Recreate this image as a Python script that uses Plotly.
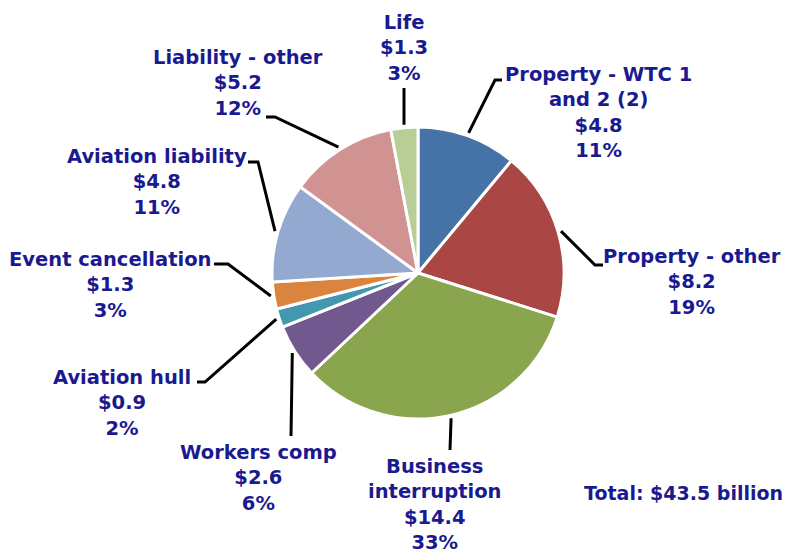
import math
import plotly.graph_objects as go

# ---- data ----
categories = ["Property - WTC 1<br>and 2 (2)", "Property - other", "Business<br>interruption",
              "Workers comp", "Aviation hull", "Event cancellation", "Aviation liability",
              "Liability - other", "Life"]
values = [4.8, 8.2, 14.4, 2.6, 0.9, 1.3, 4.8, 5.2, 1.3]
percents = [11, 19, 33, 6, 2, 3, 11, 12, 3]
colors = ["#4572A7", "#AA4643", "#89A54E", "#71588F", "#4198AF",
          "#DB843D", "#93A9CF", "#D19392", "#B9CD96"]
total_label = "Total: $43.5 billion"

# ---- layout constants (page pixels) ----
PAGE_W, PAGE_H = 792, 553
OFF = 8  # default body margin of the html page
W, H = PAGE_W - OFF, PAGE_H - OFF
CX, CY, R = 418, 273, 146
label_pos = [(598, 113), (692, 282), (434, 504), (258, 478), (122, 403),
             (110, 285), (157, 182), (238, 83), (404, 48)]
leader_bends = [[(495, 80), (502, 80)], [(595, 265), (603, 265)], [(450, 450)],
                [(291, 436)], [(205, 382), (197, 382)], [(228, 264), (214, 264)],
                [(258, 162), (248, 162)], [(275, 117), (266, 117)], [(404, 88)]]
TEXT_COLOR = "#1A1A90"
FONT = dict(family="DejaVu Sans", size=19.5, color=TEXT_COLOR, weight="bold")
TOTAL_FONT = dict(family="DejaVu Sans", size=19, color=TEXT_COLOR, weight="bold")


def px(x):
    return (x - OFF) / W


def py(y):
    return 1 - (y - OFF) / H


fig = go.Figure(go.Pie(
    values=values, labels=[c.replace("<br>", " ") for c in categories],
    marker=dict(colors=colors, line=dict(color="white", width=3)),
    sort=False, direction="clockwise", rotation=0,
    textinfo="none", hoverinfo="skip", showlegend=False,
    domain=dict(x=[px(CX - R), px(CX + R)], y=[py(CY + R), py(CY - R)]),
))

total = sum(values)
cum = 0.0
shapes = []
annotations = []
for i, v in enumerate(values):
    mid = (cum + v / 2) / total * 2 * math.pi
    cum += v
    ax = CX + (R + 3) * math.sin(mid)
    ay = CY - (R + 3) * math.cos(mid)
    pts = [(ax, ay)] + leader_bends[i]
    path = "M " + " L ".join(f"{px(x)},{py(y)}" for x, y in pts)
    shapes.append(dict(type="path", path=path, xref="paper", yref="paper",
                       line=dict(color="black", width=3)))
    lx, ly = label_pos[i]
    annotations.append(dict(
        x=px(lx), y=py(ly), xref="paper", yref="paper",
        text=f"{categories[i]}<br>${v}<br>{percents[i]}%",
        showarrow=False, xanchor="center", yanchor="middle", align="center",
        font=FONT))

annotations.append(dict(x=px(683), y=py(493), xref="paper", yref="paper",
                        text=total_label, showarrow=False, xanchor="center",
                        yanchor="middle", font=TOTAL_FONT))

fig.update_layout(width=W, height=H, margin=dict(l=0, r=0, t=0, b=0),
                  paper_bgcolor="white", plot_bgcolor="white",
                  shapes=shapes, annotations=annotations)
fig.write_html("out.html")
